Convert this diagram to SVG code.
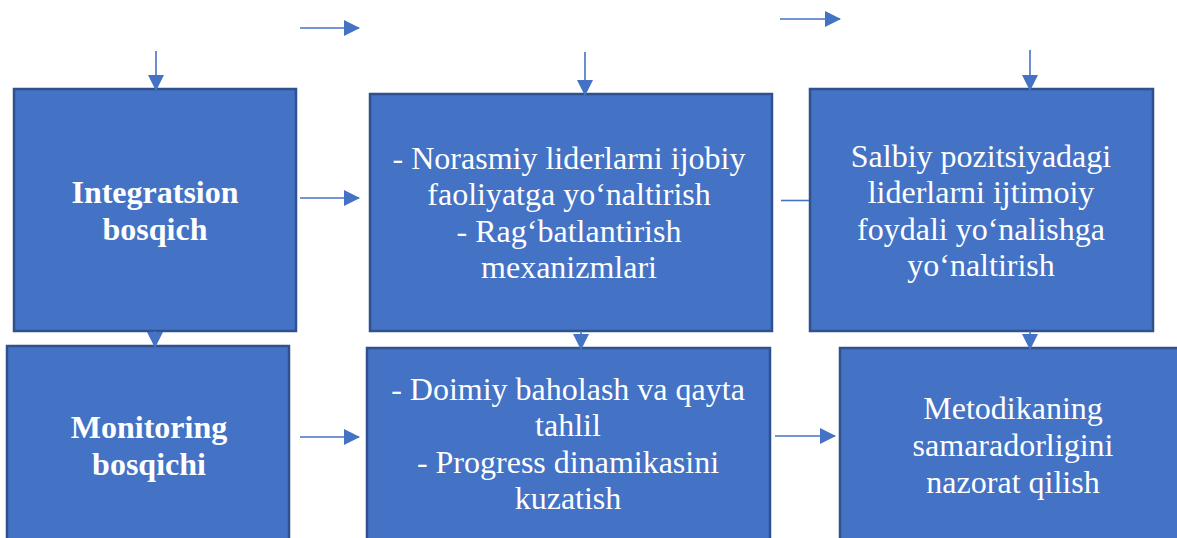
<svg xmlns="http://www.w3.org/2000/svg" width="1177" height="538" viewBox="0 0 1177 538">
<style>
.box{fill:#4472C4;stroke:#2F528F;stroke-width:2.5}
.t{font-family:"Liberation Serif","Times New Roman",serif;font-size:32px;fill:#ffffff;text-anchor:middle}
.b{font-weight:bold}
.c{stroke:#4472C4;stroke-width:1.6;fill:none}
</style>
<defs>
<marker id="ah" markerUnits="userSpaceOnUse" markerWidth="16" markerHeight="16" viewBox="0 0 16 16" refX="15" refY="8" orient="auto">
<path d="M0,0 L16,8 L0,16 Z" fill="#4472C4"/>
</marker>
</defs>
<rect width="1177" height="538" fill="#ffffff"/>
<g id="n1"><rect class="box" x="14" y="89" width="282" height="242"/>
<text class="t b" x="155" y="203">Integratsion</text><text class="t b" x="155" y="240">bosqich</text></g>
<g id="n2"><rect class="box" x="370" y="94" width="402" height="237"/>
<text class="t" x="569" y="169">- Norasmiy liderlarni ijobiy</text>
<text class="t" x="569" y="205">faoliyatga yo‘naltirish</text>
<text class="t" x="569" y="242">- Rag‘batlantirish</text>
<text class="t" x="569" y="278">mexanizmlari</text></g>
<g id="n3"><rect class="box" x="810" y="89" width="343" height="242"/>
<text class="t" x="981" y="167">Salbiy pozitsiyadagi</text>
<text class="t" x="981" y="203">liderlarni ijtimoiy</text>
<text class="t" x="981" y="240">foydali yo‘nalishga</text>
<text class="t" x="981" y="276">yo‘naltirish</text></g>
<g id="n4"><rect class="box" x="7" y="346" width="282" height="200"/>
<text class="t b" x="149" y="438">Monitoring</text><text class="t b" x="149" y="475">bosqichi</text></g>
<g id="n5"><rect class="box" x="367" y="348" width="403" height="200"/>
<text class="t" x="568" y="400">- Doimiy baholash va qayta</text>
<text class="t" x="568" y="436">tahlil</text>
<text class="t" x="568" y="473">- Progress dinamikasini</text>
<text class="t" x="568" y="509">kuzatish</text></g>
<g id="n6"><rect class="box" x="840" y="348" width="345" height="200"/>
<text class="t" x="1013" y="419">Metodikaning</text>
<text class="t" x="1013" y="456">samaradorligini</text>
<text class="t" x="1013" y="493">nazorat qilish</text></g>
<g id="connectors">
<line class="c" x1="300" y1="28" x2="359" y2="28" marker-end="url(#ah)"/>
<line class="c" x1="780" y1="19" x2="840" y2="19" marker-end="url(#ah)"/>
<line class="c" x1="156" y1="51" x2="156" y2="90" marker-end="url(#ah)"/>
<line class="c" x1="585" y1="52" x2="585" y2="95" marker-end="url(#ah)"/>
<line class="c" x1="1030" y1="50" x2="1030" y2="90" marker-end="url(#ah)"/>
<line class="c" x1="300" y1="198" x2="359" y2="198" marker-end="url(#ah)"/>
<line class="c" x1="781" y1="200.5" x2="809" y2="200.5"/>
<line class="c" x1="155" y1="331" x2="155" y2="347" marker-end="url(#ah)"/>
<line class="c" x1="581" y1="331" x2="581" y2="349" marker-end="url(#ah)"/>
<line class="c" x1="1030" y1="331" x2="1030" y2="349" marker-end="url(#ah)"/>
<line class="c" x1="300" y1="437" x2="359" y2="437" marker-end="url(#ah)"/>
<line class="c" x1="775" y1="436" x2="835" y2="436" marker-end="url(#ah)"/>
</g>
</svg>
